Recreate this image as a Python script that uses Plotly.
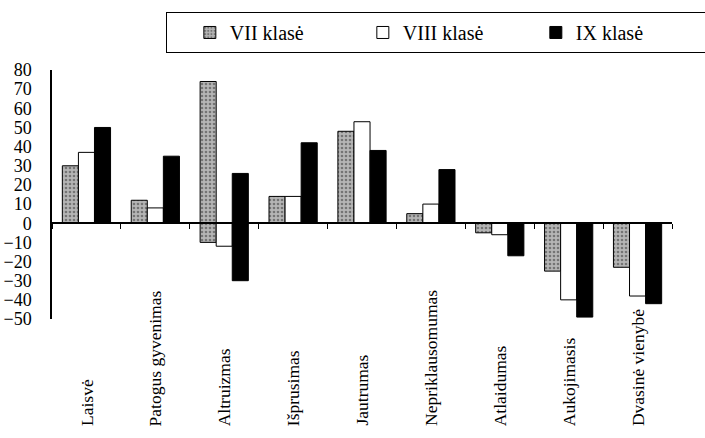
import plotly.graph_objects as go

categories = ["Laisvė", "Patogus gyvenimas", "Altruizmas", "Išprusimas", "Jautrumas",
              "Nepriklausomumas", "Atlaidumas", "Aukojimasis", "Dvasinė vienybė"]
series_names = ["VII klasė", "VIII klasė", "IX klasė"]
# bar ends (top/bottom as printed in the scanned chart)
vii_end = [30, 12, 74, 14, 48, 5, -5, -25, -23]
vii_start = [0, 0, -10, 0, 0, 0, 0, 0, 0]
viii_end = [37, 8, -12, 14, 53, 10, -6, -40, -38]
viii_start = [0, 0, 0, 0, 0, 0, 0, 0, 0]
ix_end = [50, 35, 26, 42, 38, 28, -17, -49, -42]
ix_start = [0, 0, -30, 0, 0, 0, 0, 0, 0]
y_ticks = list(range(-50, 81, 10))

SERIF = "Liberation Serif, Times New Roman, serif"
ymin, ymax = -50, 80

fig = go.Figure()
styles = [
    dict(color="#9a9a9a", line=dict(color="black", width=1),
         pattern=dict(shape=".", fgcolor="#333333", bgcolor="#b5b5b5", size=4, solidity=0.35)),
    dict(color="white", line=dict(color="black", width=1)),
    dict(color="black", line=dict(color="black", width=1)),
]
for name, ends, starts, mk in zip(series_names, [vii_end, viii_end, ix_end],
                                  [vii_start, viii_start, ix_start], styles):
    fig.add_trace(go.Bar(
        x=categories, y=[e - s for e, s in zip(ends, starts)], base=starts,
        name=name, marker=mk))

for c in categories:
    fig.add_annotation(x=c, xref="x", y=-0.438, yref="paper", yanchor="bottom",
                       text=c, textangle=-90, showarrow=False,
                       font=dict(family=SERIF, size=17.5, color="black"))

fig.update_layout(
    width=705, height=438,
    margin=dict(l=52, r=33, t=70, b=119, autoexpand=False),
    paper_bgcolor="white", plot_bgcolor="white",
    barmode="group", bargap=0.3, bargroupgap=0,
    font=dict(family=SERIF, color="black"),
    legend=dict(orientation="h", x=0.184, y=1.233, xanchor="left", yanchor="top",
                bordercolor="black", borderwidth=1, entrywidth=128,
                title=dict(text="&nbsp;" * 3, side="left",
                           font=dict(family=SERIF, size=17)),
                font=dict(family=SERIF, size=20, color="black")),
    xaxis=dict(anchor="free", position=(0 - ymin) / (ymax - ymin),
               showline=True, linecolor="black", linewidth=1.5,
               ticks="outside", tickson="boundaries", ticklen=5, tickcolor="black",
               showticklabels=False, showgrid=False, zeroline=False),
    yaxis=dict(range=[ymin, ymax], tickvals=y_ticks, showline=True, linecolor="black",
               linewidth=1.5, ticks="", ticklabelstandoff=15, showgrid=False,
               zeroline=False, tickfont=dict(family=SERIF, size=18, color="black")),
)
fig.write_html("out.html", config={"displayModeBar": False},
               post_script="document.body.style.margin='0';")
